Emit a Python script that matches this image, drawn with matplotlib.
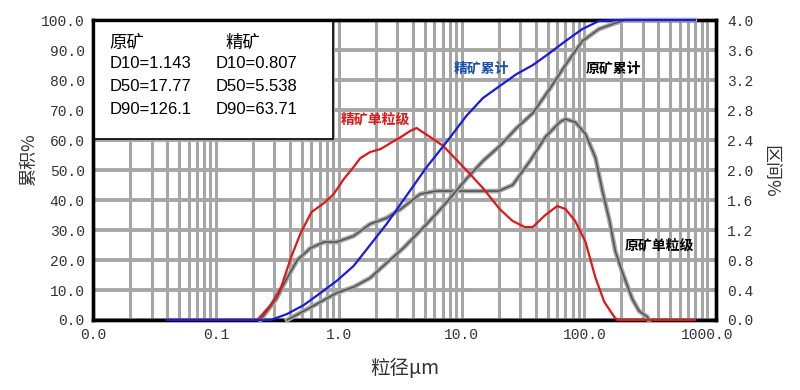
import matplotlib
matplotlib.use("Agg")
import matplotlib.pyplot as plt
from matplotlib.patches import Rectangle
from matplotlib.ticker import LogLocator, NullFormatter

plt.rcParams['font.family'] = ['Noto Sans CJK SC', 'DejaVu Sans']

# 精矿单粒级 (区间%)
conc_diff_x = [0.04, 0.217, 0.28, 0.34, 0.41, 0.49, 0.60, 0.76, 0.91, 1.1, 1.32, 1.5, 1.8,
               2.19, 2.64, 3.2, 3.8, 4.3, 5.55, 7.1, 10.9, 14.9, 20.4, 26, 32.6, 38, 48,
               60, 70, 84, 102, 123, 145, 175, 185, 790]
conc_diff_y = [0, 0, 0.2, 0.44, 0.84, 1.16, 1.44, 1.56, 1.68, 1.88, 2.04, 2.16, 2.24,
               2.28, 2.36, 2.44, 2.52, 2.56, 2.44, 2.32, 2.0, 1.76, 1.48, 1.32, 1.24, 1.24, 1.4,
               1.52, 1.48, 1.32, 1.04, 0.56, 0.24, 0.04, 0, 0]

# 原矿单粒级 (区间%)
raw_diff_x = [0.23, 0.31, 0.38, 0.46, 0.59, 0.76, 0.96, 1.32, 1.8, 2.45, 3.2, 4.6, 6.2,
              10.9, 20, 26, 36, 48, 63, 70, 84, 102, 123, 140, 160, 178, 203, 245, 278, 326, 333]
raw_diff_y = [0, 0.28, 0.56, 0.8, 0.96, 1.04, 1.04, 1.12, 1.28, 1.36, 1.48, 1.68, 1.72,
              1.72, 1.72, 1.8, 2.12, 2.44, 2.64, 2.68, 2.64, 2.48, 2.16, 1.72, 1.32, 0.92, 0.64,
              0.28, 0.12, 0.04, 0]

# 精矿累计 (累积%)
conc_cum_x = [0.04, 0.28, 0.38, 0.52, 0.71, 0.96, 1.32, 1.8, 2.45, 3.36, 5.2, 7.1, 8.1,
              10.9, 14.9, 20.4, 28, 38, 52, 70, 96, 131, 190, 790]
conc_cum_y = [0, 0, 2, 5, 9, 13, 18, 25, 32, 40, 51, 58, 61,
              68, 74, 78, 82, 85, 89, 93, 97, 99.7, 100, 100]

# 原矿累计 (累积%)
raw_cum_x = [0.38, 0.52, 0.71, 0.96, 1.32, 1.8, 2.45, 3.36, 5.2, 7.1, 10.9, 14.9, 20.4,
             28, 38, 52, 70, 96, 131, 178, 215, 790]
raw_cum_y = [0, 3, 6, 9, 11, 14, 19, 24, 32, 38, 47, 53, 58,
             64, 69, 77, 85, 93, 97, 99, 100, 100]

x_ticks = [0.01, 0.1, 1, 10, 100, 1000]
x_labels = ['0.0', '0.1', '1.0', '10.0', '100.0', '1000.0']
left_ticks = [0, 10, 20, 30, 40, 50, 60, 70, 80, 90, 100]
right_ticks = [0, 0.4, 0.8, 1.2, 1.6, 2.0, 2.4, 2.8, 3.2, 3.6, 4.0]

fig = plt.figure(figsize=(8, 3.9), dpi=100)
ax = fig.add_axes([0.11625, 0.1795, 0.779, 0.769])
ax.set_xscale('log')
ax.set_xlim(0.0106, 1180)
ax.set_ylim(0, 100)
ax.set_xticks(x_ticks)
ax.set_xticklabels(x_labels)
ax.xaxis.set_minor_locator(LogLocator(base=10, subs=range(2, 10)))
ax.xaxis.set_minor_formatter(NullFormatter())
ax.set_yticks(left_ticks)
ax.set_yticklabels(['%.1f' % v for v in left_ticks])
ax.grid(True, which='both', axis='x', color='#a6a6a6', linewidth=2.2)
ax.grid(True, which='major', axis='y', color='#a6a6a6', linewidth=2.8)
ax.set_axisbelow(True)
ax.tick_params(which='both', length=0, pad=6, labelsize=10.5, labelcolor='#333333')
for lab in ax.get_xticklabels() + ax.get_yticklabels():
    lab.set_family('Liberation Mono')

ax2 = ax.twinx()
ax2.set_ylim(0, 4)
ax2.set_yticks(right_ticks)
ax2.set_yticklabels(['%.1f' % v for v in right_ticks])
ax2.tick_params(length=0, pad=8, labelsize=10.5, labelcolor='#333333')
for lab in ax2.get_yticklabels():
    lab.set_family('Liberation Mono')

for a in (ax, ax2):
    for s in a.spines.values():
        s.set_color('black')
        s.set_linewidth(2.4)

# 图例框
ax.add_patch(Rectangle((0, 0.605), 0.385, 0.395, transform=ax.transAxes,
                       facecolor='white', edgecolor='black', linewidth=1.2, zorder=3))
ax.text(0.027, 0.925, '原矿', transform=ax.transAxes, fontsize=12.5, zorder=4, va='center')
ax.text(0.212, 0.925, '精矿', transform=ax.transAxes, fontsize=12.5, zorder=4, va='center')
raw_stats = ['D10=1.143', 'D50=17.77', 'D90=126.1']
conc_stats = ['D10=0.807', 'D50=5.538', 'D90=63.71']
for i, (r, c) in enumerate(zip(raw_stats, conc_stats)):
    yy = 0.855 - i * 0.077
    ax.text(0.027, yy, r, transform=ax.transAxes, fontsize=12, zorder=4, va='center',
            family='Liberation Sans')
    ax.text(0.196, yy, c, transform=ax.transAxes, fontsize=12, zorder=4, va='center',
            family='Liberation Sans')

# 曲线
kw = dict(clip_on=False)
ax2.plot(raw_diff_x, raw_diff_y, color='#a8a8a8', linewidth=3.4, zorder=3, **kw)
ax2.plot(raw_diff_x, raw_diff_y, color='#555555', linewidth=1.2, zorder=3, **kw)
ax2.plot(raw_cum_x, [v / 25 for v in raw_cum_y], color='#a8a8a8', linewidth=3.4, zorder=3, **kw)
ax2.plot(raw_cum_x, [v / 25 for v in raw_cum_y], color='#555555', linewidth=1.2, zorder=3, **kw)
ax2.plot(conc_diff_x, conc_diff_y, color='#e01818', linewidth=1.6, zorder=4, **kw)
ax2.plot(conc_cum_x, [v / 25 for v in conc_cum_y], color='#1a1ae0', linewidth=1.6, zorder=5, **kw)

# 曲线标注
ax.text(14.4, 84, '精矿累计', color='#1a4fb0', fontsize=10, fontweight='bold',
        ha='center', va='center')
ax.text(171, 84, '原矿累计', color='black', fontsize=10, fontweight='bold',
        ha='center', va='center')
ax.text(2.0, 67, '精矿单粒级', color='#e01818', fontsize=10, fontweight='bold',
        ha='center', va='center')
ax.text(404, 25, '原矿单粒级', color='black', fontsize=10, fontweight='bold',
        ha='center', va='center')

fig.text(0.036, 0.59, '累积%', rotation=90, fontsize=13, ha='center', va='center',
         color='#333333')
fig.text(0.963, 0.56, '区间%', rotation=270, fontsize=13, ha='center', va='center',
         color='#333333')
fig.text(0.506, 0.055, '粒径μm', fontsize=14, ha='center', va='center', color='#333333')

fig.savefig('out.png', dpi=100)
